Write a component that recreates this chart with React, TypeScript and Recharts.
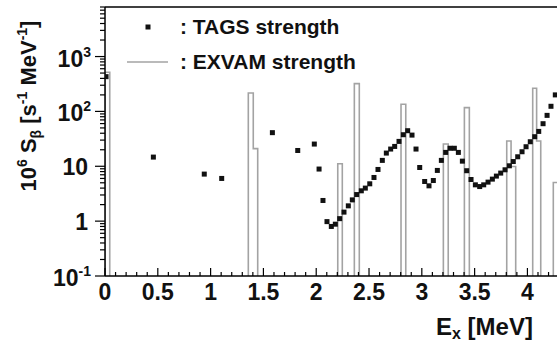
import { ComposedChart, Line, Scatter, XAxis, YAxis, ReferenceLine } from 'recharts'

// TAGS strength: excitation energy (MeV) and 10^6 S_beta (s^-1 MeV^-1)
const TAGS_E = [
  0.01, 0.458, 0.94, 1.105, 1.585, 1.825, 1.982, 2.027, 2.064, 2.102,
  2.143, 2.181, 2.222, 2.263, 2.304, 2.342, 2.383, 2.427, 2.465, 2.507,
  2.547, 2.585, 2.626, 2.664, 2.705, 2.743, 2.784, 2.825, 2.866, 2.907,
  2.945, 2.98, 3.027, 3.068, 3.109, 3.147, 3.185, 3.226, 3.267, 3.308,
  3.346, 3.384, 3.425, 3.466, 3.507, 3.548, 3.586, 3.627, 3.668, 3.706,
  3.747, 3.788, 3.829, 3.866, 3.908, 3.949, 3.987, 4.027, 4.069, 4.107,
  4.148, 4.186, 4.223, 4.264,
]
const TAGS_S = [
  430, 14.7, 7.2, 6.0, 41, 19.4, 25.4, 8.9, 2.38, 0.98,
  0.8, 0.88, 1.11, 1.46, 1.9, 2.44, 3.05, 3.57, 4.0, 4.79,
  6.25, 8.75, 12.8, 17.4, 20.6, 23, 28.4, 37.6, 44.5, 37,
  20.6, 9.5, 5.28, 4.4, 5.5, 8.4, 12.8, 17.9, 21.3, 21.3,
  17.9, 12.4, 8.3, 5.74, 4.59, 4.27, 4.59, 5.14, 5.83, 6.62,
  7.51, 8.63, 10.2, 12.2, 14.9, 18.4, 22.7, 28.0, 34.6, 43.2,
  59.7, 84.7, 124, 200,
]

// EXVAM strength histogram: non-empty bins (low edge, high edge, value)
const EXVAM_LO = [0, 1.357, 1.404, 2.204, 2.361, 2.803, 3.204, 3.403, 3.804, 3.845, 4.05, 4.087, 4.245]
const EXVAM_HI = [0.045, 1.404, 1.446, 2.247, 2.408, 2.848, 3.25, 3.45, 3.845, 3.889, 4.087, 4.126, 4.29]
const EXVAM_S = [516, 217, 21, 11.1, 321, 135, 25.4, 117, 28.9, 9.9, 264, 28.9, 5.06]

const X_MAX = 4.28
const Y_MIN = 0.1
const Y_MAX = 8000
const X_LABELS = ['0', '0.5', '1', '1.5', '2', '2.5', '3', '3.5', '4']
const Y_DECADES = [0.1, 1, 10, 100, 1000]
const Y_LABELS = [
  { base: '10', exp: '-1' },
  { base: '1', exp: '' },
  { base: '10', exp: '' },
  { base: '10', exp: '2' },
  { base: '10', exp: '3' },
]

// empty bins sit below the axis floor and get clipped
const EMPTY = 0.05

const W = 557
const H = 343
const LEFT = 105
const TOP = 7
const BOTTOM = 276
const FONT = '"Liberation Sans", Arial, Helvetica, sans-serif'
const GREY = '#a3a3a3'

const tagsData = TAGS_E.map((e, i) => ({ e, v: TAGS_S[i] }))

const exvamData: { e: number; v: number }[] = []
EXVAM_LO.forEach((lo, i) => {
  const prevHi = i > 0 ? EXVAM_HI[i - 1] : null
  if (prevHi === null || lo > prevHi + 1e-6) {
    if (prevHi !== null) exvamData.push({ e: prevHi, v: EMPTY })
    exvamData.push({ e: lo, v: EMPTY })
  }
  exvamData.push({ e: lo, v: EXVAM_S[i] })
})
exvamData.push({ e: EXVAM_HI[EXVAM_HI.length - 1], v: EMPTY })

const xTicks = Array.from({ length: 43 }, (_, i) => i / 10)
const yTicks = Y_DECADES.flatMap((d) =>
  [1, 2, 3, 4, 5, 6, 7, 8, 9].map((m) => +(m * d).toPrecision(3)),
).filter((v) => v <= Y_MAX)

function XTick(props: any) {
  const { x, payload } = props
  const v = payload.value as number
  const major = Math.abs(v * 2 - Math.round(v * 2)) < 1e-6
  return (
    <g>
      <line x1={x} x2={x} y1={BOTTOM} y2={BOTTOM - (major ? 8 : 4)} stroke="#000" strokeWidth={1.2} />
      {major && (
        <text x={x} y={300} textAnchor="middle" fontFamily={FONT} fontWeight="bold" fontSize={23} fill="#111">
          {X_LABELS[Math.round(v * 2)]}
        </text>
      )}
    </g>
  )
}

function YTick(props: any) {
  const { y, payload } = props
  const v = payload.value as number
  const idx = Y_DECADES.findIndex((d) => Math.abs(d - v) < d * 1e-6)
  const major = idx >= 0
  const label = major ? Y_LABELS[idx] : null
  return (
    <g>
      <line x1={LEFT - (major ? 10 : 5)} x2={LEFT} y1={y} y2={y} stroke="#000" strokeWidth={1.2} />
      {label && (
        <text
          x={label.exp ? 91 : 88}
          y={y + (label.exp ? 10 : 9)}
          textAnchor="end"
          fontFamily={FONT}
          fontWeight="bold"
          fontSize={23}
          fill="#111"
        >
          {label.base}
          {label.exp && (
            <tspan fontSize={14} dy={-10}>
              {label.exp}
            </tspan>
          )}
        </text>
      )}
    </g>
  )
}

function TagsMarker(props: any) {
  const { cx, cy } = props
  return <rect x={cx - 2.5} y={cy - 2.5} width={5} height={5} fill="#111" />
}

export default function App() {
  return (
    <div style={{ position: 'absolute', left: 0, top: 0, width: W, height: H, background: '#fff' }}>
      <ComposedChart width={W} height={H} margin={{ top: TOP, right: 0, bottom: 0, left: 0 }}>
        <XAxis
          dataKey="e"
          type="number"
          domain={[0, X_MAX]}
          ticks={xTicks}
          interval={0}
          allowDataOverflow
          height={H - BOTTOM}
          tickLine={false}
          axisLine={{ stroke: '#000', strokeWidth: 1.5 }}
          tick={<XTick />}
        />
        <YAxis
          dataKey="v"
          type="number"
          scale="log"
          domain={[Y_MIN, Y_MAX]}
          ticks={yTicks}
          interval={0}
          allowDataOverflow
          width={LEFT}
          tickLine={false}
          axisLine={{ stroke: '#000', strokeWidth: 1.5 }}
          tick={<YTick />}
        />
        <ReferenceLine y={Y_MAX} stroke="#000" strokeWidth={1.5} />
        <Line
          data={exvamData}
          dataKey="v"
          type="stepAfter"
          stroke={GREY}
          strokeWidth={1.6}
          dot={false}
          activeDot={false}
          isAnimationActive={false}
        />
        <Scatter data={tagsData} dataKey="v" shape={<TagsMarker />} isAnimationActive={false} />
      </ComposedChart>

      <svg width={W} height={H} style={{ position: 'absolute', left: 0, top: 0, pointerEvents: 'none' }}>
        {/* legend */}
        <rect x={145.5} y={24.5} width={5} height={5} fill="#111" />
        <text x={180} y={34} fontFamily={FONT} fontWeight="bold" fontSize={21} fill="#111">
          : TAGS strength
        </text>
        <line x1={127} x2={168} y1={62} y2={62} stroke={GREY} strokeWidth={1.6} />
        <text x={180} y={69} fontFamily={FONT} fontWeight="bold" fontSize={21} fill="#111">
          : EXVAM strength
        </text>

        {/* axis titles */}
        <text
          transform="translate(36,106) rotate(-90)"
          textAnchor="middle"
          fontFamily={FONT}
          fontWeight="bold"
          fontSize={22}
          fill="#111"
        >
          10
          <tspan fontSize={14} dy={-9}>6</tspan>
          <tspan dy={9}> S</tspan>
          <tspan fontSize={14} dy={5}>β</tspan>
          <tspan dy={-5}> [s</tspan>
          <tspan fontSize={14} dy={-9}>-1</tspan>
          <tspan dy={9}> MeV</tspan>
          <tspan fontSize={14} dy={-9}>-1</tspan>
          <tspan dy={9}>]</tspan>
        </text>
        <text x={436} y={335} fontFamily={FONT} fontWeight="bold" fontSize={24} fill="#111">
          E
          <tspan fontSize={16} dy={4}>x</tspan>
          <tspan dy={-4}> [MeV]</tspan>
        </text>
      </svg>
    </div>
  )
}
